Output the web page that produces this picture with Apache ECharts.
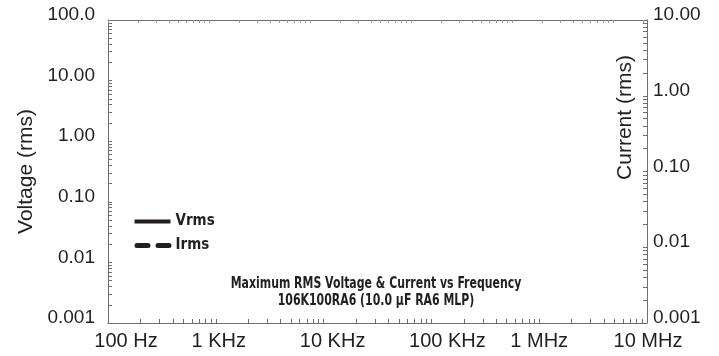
<!DOCTYPE html>
<html><head><meta charset="utf-8">
<script src="https://cdn.jsdelivr.net/npm/echarts@6/dist/echarts.min.js"></script>
<style>html,body{margin:0;padding:0;background:#fff}#c{width:719px;height:356px}</style>
</head><body><div id="c"></div>
<script>
// The reference shows only the empty frame, the legend and the caption: no curve is plotted.
const frequencyHz = [];
const vrmsValues = [];
const irmsValues = [];
const seriesNames = ['Vrms', 'Irms'];
const xTickValues = [100, 1000, 10000, 100000, 1000000, 10000000];
const xTickLabels = ['100 Hz', '1 KHz', '10 KHz', '100 KHz', '1 MHz', '10 MHz'];
const voltTickValues = [0.001, 0.01, 0.1, 1, 10, 100];
const voltTickLabels = ['0.001', '0.01', '0.10', '1.00', '10.00', '100.0'];
const currTickValues = [0.001, 0.01, 0.1, 1, 10];
const currTickLabels = ['0.001', '0.01', '0.10', '1.00', '10.00'];
const minorMultipliers = [1, 2, 3, 4, 5, 6, 7, 8, 9];
const titleLines = ['Maximum RMS Voltage & Current vs Frequency', '106K100RA6 (10.0 µF RA6 MLP)'];
const voltName = 'Voltage (rms)';
const currName = 'Current (rms)';

// ---- presentation ----
const AXIS_COLOR = '#6d6e71';
const TEXT_COLOR = '#231f20';
const LABEL_FONT = '"Liberation Sans", Arial, sans-serif';
const NARROW_FONT = '"DejaVu Sans Condensed", "Liberation Sans", sans-serif';
const xLabelShift = [18, 3, 9, 16, 0, 1];

function logTicks(decades) {
  const out = [];
  decades.forEach(d => minorMultipliers.forEach(m => out.push(+(m * d).toPrecision(6))));
  return out;
}
function labelIndex(values, v) {
  for (let i = 0; i < values.length; i++) {
    if (Math.abs(Math.log10(v) - Math.log10(values[i])) < 1e-6) return i;
  }
  return -1;
}

const xRich = {};
xLabelShift.forEach((s, i) => {
  xRich['s' + i] = { fontSize: 20, fontFamily: LABEL_FONT, color: TEXT_COLOR, padding: [0, 0, 0, 2 * s] };
});
const yRich = { u: { fontSize: 19, fontFamily: LABEL_FONT, color: TEXT_COLOR, padding: [0, 0, 10, 0] } };

const chart = echarts.init(document.getElementById('c'), null, { renderer: 'canvas' });
chart.setOption({
  animation: false,
  backgroundColor: '#fff',
  grid: { left: 108, right: 72, top: 20, bottom: 33, containLabel: false, outerBoundsMode: 'none' },
  graphic: [
    {
      type: 'text', x: 376, y: 284, scaleX: 0.81,
      style: { text: titleLines[0], textAlign: 'center', textVerticalAlign: 'middle',
        fontFamily: NARROW_FONT, fontWeight: 'bold', fontSize: 15, fill: TEXT_COLOR }
    },
    {
      type: 'text', x: 376, y: 301, scaleX: 0.81,
      style: { text: titleLines[1], textAlign: 'center', textVerticalAlign: 'middle',
        fontFamily: NARROW_FONT, fontWeight: 'bold', fontSize: 15, fill: TEXT_COLOR }
    }
  ],
  legend: {
    data: [
      { name: seriesNames[0], itemStyle: { color: 'transparent', borderWidth: 0 },
        lineStyle: { color: TEXT_COLOR, width: 4, type: 'solid', cap: 'butt' } },
      { name: seriesNames[1], itemStyle: { color: 'transparent', borderWidth: 0 },
        lineStyle: { color: TEXT_COLOR, width: 5, type: [11, 10], dashOffset: 18.5, cap: 'round' } }
    ],
    orient: 'vertical', left: 132, top: 214, padding: 0,
    itemWidth: 36, itemHeight: 14, itemGap: 9,
    textStyle: { fontFamily: NARROW_FONT, fontWeight: 'bold', fontSize: 15, color: TEXT_COLOR },
    selectedMode: false
  },
  xAxis: [
    {
      type: 'log', logBase: 10, min: xTickValues[0], max: xTickValues[xTickValues.length - 1],
      position: 'bottom',
      axisLine: { show: true, lineStyle: { color: AXIS_COLOR, width: 1 } },
      axisTick: { show: true, inside: true, length: 4, customValues: logTicks(xTickValues.slice(0, -1)).concat([xTickValues[xTickValues.length - 1]]), lineStyle: { color: AXIS_COLOR } },
      axisLabel: {
        show: true, customValues: xTickValues, margin: 8,
        fontSize: 20, fontFamily: LABEL_FONT, color: TEXT_COLOR,
        formatter: function (v) {
          const i = labelIndex(xTickValues, v);
          return '{s' + i + '|' + xTickLabels[i] + '}';
        },
        rich: xRich
      },
      splitLine: { show: false }
    },
    {
      type: 'log', logBase: 10, min: xTickValues[0], max: 21700000,
      position: 'top',
      axisLine: { show: true, lineStyle: { color: AXIS_COLOR, width: 1 } },
      axisTick: { show: true, inside: true, length: 3, customValues: logTicks(xTickValues), lineStyle: { color: '#9a9a9a' } },
      axisLabel: { show: false },
      splitLine: { show: false }
    }
  ],
  yAxis: [
    {
      type: 'log', logBase: 10, min: voltTickValues[0], max: voltTickValues[voltTickValues.length - 1],
      position: 'left',
      name: voltName, nameLocation: 'middle', nameGap: 71, nameRotate: 90, nameMoveOverlap: false,
      nameTextStyle: { fontSize: 21, fontFamily: LABEL_FONT, color: TEXT_COLOR },
      axisLine: { show: true, lineStyle: { color: AXIS_COLOR, width: 1 } },
      axisTick: { show: true, inside: true, length: 4, customValues: logTicks(voltTickValues.slice(0, -1)).concat([voltTickValues[voltTickValues.length - 1]]), lineStyle: { color: AXIS_COLOR } },
      axisLabel: {
        show: true, customValues: voltTickValues, margin: 13,
        formatter: function (v) { return '{u|' + voltTickLabels[labelIndex(voltTickValues, v)] + '}'; },
        rich: yRich
      },
      splitLine: { show: false }
    },
    {
      type: 'log', logBase: 10, min: currTickValues[0], max: currTickValues[currTickValues.length - 1],
      position: 'right',
      name: currName, nameLocation: 'middle', nameGap: -32, nameRotate: 90, nameMoveOverlap: false,
      nameTextStyle: { fontSize: 21, fontFamily: LABEL_FONT, color: TEXT_COLOR, padding: [0, 0, 0, 108] },
      axisLine: { show: true, lineStyle: { color: AXIS_COLOR, width: 1 } },
      axisTick: { show: true, inside: true, length: 4, customValues: logTicks(currTickValues.slice(0, -1)).concat([currTickValues[currTickValues.length - 1]]), lineStyle: { color: AXIS_COLOR } },
      axisLabel: {
        show: true, customValues: currTickValues, margin: 6,
        formatter: function (v) { return '{u|' + currTickLabels[labelIndex(currTickValues, v)] + '}'; },
        rich: yRich
      },
      splitLine: { show: false }
    }
  ],
  series: [
    {
      name: seriesNames[0], type: 'line', xAxisIndex: 0, yAxisIndex: 0,
      symbol: 'none', showSymbol: false,
      lineStyle: { color: TEXT_COLOR, width: 4, type: 'solid', cap: 'butt' },
      itemStyle: { color: TEXT_COLOR },
      data: frequencyHz.map((f, i) => [f, vrmsValues[i]])
    },
    {
      name: seriesNames[1], type: 'line', xAxisIndex: 0, yAxisIndex: 1,
      symbol: 'none', showSymbol: false,
      lineStyle: { color: TEXT_COLOR, width: 5, type: [11, 10], cap: 'round' },
      itemStyle: { color: TEXT_COLOR },
      data: frequencyHz.map((f, i) => [f, irmsValues[i]])
    }
  ]
});
</script>
</body></html>
